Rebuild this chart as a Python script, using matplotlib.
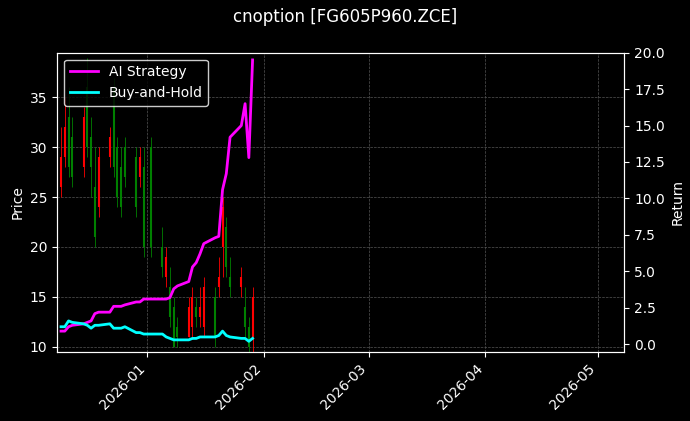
import matplotlib
matplotlib.use("Agg")
import matplotlib.pyplot as plt
import matplotlib.dates as mdates
import pandas as pd
import numpy as np

dates = pd.bdate_range("2025-12-09", "2026-01-29")
dates = dates[dates != pd.Timestamp("2026-01-01")]
opens  = [26,29,33,31,28,36,31,26,24,29,36,30,28,30,29,27,28,30,20,17,16,14,12,11,12,14,13,12,15,16,20,22,17,16,14,12,11]
closes = [29,32,28,27,33,30,28,21,29,31,28,25,24,27,24,29,20,20,18,19,13,10,11,14,15,13,14,16,11,17,24,18,16,17,12,10,15]
highs  = [32,35,36,33,34,39,33,30,30,32,37,31,30,31,30,30,30,31,22,20,18,15,13,15,16,15,16,17,16,19,25,23,19,18,16,13,16]
lows   = [25,28,27,26,27,29,25,20,23,28,27,24,23,26,23,26,19,19,17,16,12,10,10,11,11,12,12,11,10,15,17,17,15,15,11,9.5,9.5]
strat = [0.9,0.9,1.2,1.3,1.4,1.5,1.6,2.1,2.2,2.2,2.6,2.6,2.6,2.7,2.9,2.9,3.1,3.1,3.1,3.1,3.2,3.8,4.0,4.3,5.3,5.6,6.2,6.9,7.3,7.4,10.6,11.7,14.2,15.0,16.5,12.8,19.5]
bh    = [1.2,1.2,1.6,1.5,1.4,1.3,1.1,1.3,1.3,1.4,1.1,1.1,1.1,1.2,0.8,0.8,0.7,0.7,0.7,0.5,0.4,0.3,0.3,0.3,0.4,0.4,0.5,0.5,0.5,0.6,0.9,0.6,0.5,0.4,0.4,0.2,0.4]

plt.style.use("dark_background")
fig, ax = plt.subplots(figsize=(6.9, 4.21), dpi=100)
fig.patch.set_facecolor("black")
ax.set_facecolor("black")
for d, o, c, h, l in zip(dates, opens, closes, highs, lows):
    col = "red" if c >= o else "green"
    ax.vlines(d, l, h, color=col, linewidth=0.6)
    ax.vlines(d, min(o, c), max(o, c), color=col, linewidth=1.5)
ax.set_ylim(9.5, 39.5)
ax.set_ylabel("Price")
ax.grid(True, color="#555555", linestyle="--", linewidth=0.5)
ax2 = ax.twinx()
l1, = ax2.plot(dates, strat, color="magenta", linewidth=2, label="AI Strategy")
l2, = ax2.plot(dates, bh, color="cyan", linewidth=2, label="Buy-and-Hold")
ax2.set_ylim(-0.5, 20)
ax2.set_ylabel("Return")
ax.set_xlim(pd.Timestamp("2025-12-08"), pd.Timestamp("2026-05-08"))
ax.xaxis.set_major_locator(mdates.MonthLocator())
ax.xaxis.set_major_formatter(mdates.DateFormatter("%Y-%m"))
plt.setp(ax.get_xticklabels(), rotation=45, ha="right")
ax2.legend(handles=[l1, l2], loc="upper left", facecolor="black", edgecolor="white")
fig.suptitle("cnoption [FG605P960.ZCE]")
fig.subplots_adjust(left=0.083, right=0.905, top=0.875, bottom=0.165)
fig.savefig("out.png", dpi=100, facecolor="black")
